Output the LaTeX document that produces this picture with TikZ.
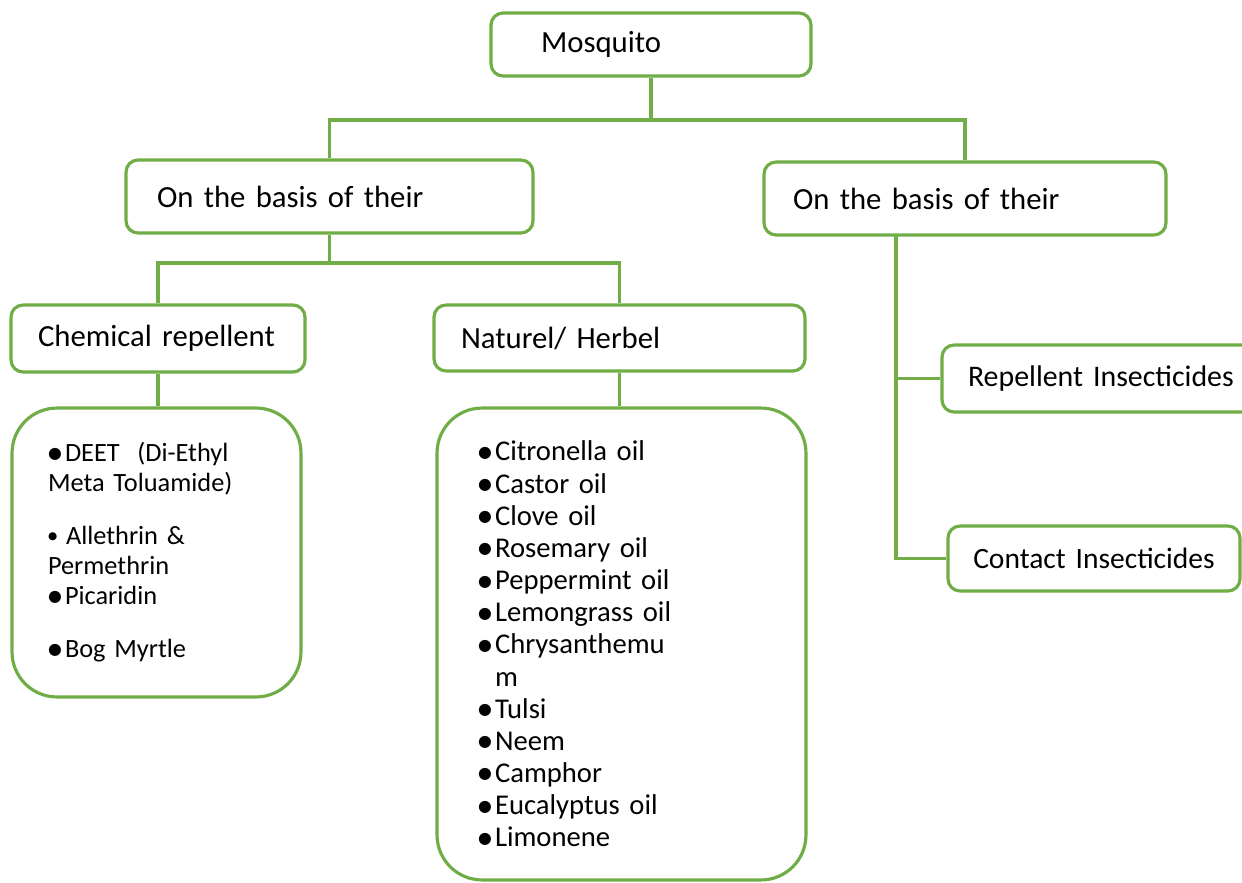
\documentclass[tikz,border=0pt]{standalone}
\usepackage{fontspec}
\setmainfont{Carlito}
\newfontfamily\dotfont{DejaVu Sans}
\usetikzlibrary{positioning}
\definecolor{leafgreen}{RGB}{112,173,71}
\newcommand{\bdot}{\makebox[0.34cm][l]{\raisebox{0.07cm}{\dotfont\fontsize{9}{9}\selectfont ●}}}
\newcommand{\sdot}{\makebox[0.36cm][l]{\raisebox{0.1cm}{\dotfont\fontsize{6}{6}\selectfont ●}}}

\tikzset{
  hbox/.style={draw=leafgreen, line width=1.8pt, rounded corners=0.24cm, align=left,
    inner ysep=0pt, font=\fontsize{17.5}{20}\selectfont},
  lbox/.style={hbox, rounded corners=0.9cm},
  link/.style={leafgreen, line width=1.8pt}
}

\begin{document}
\begin{tikzpicture}[x=0.02cm, y=-0.02cm]
  \clip (0,0) rectangle (1242,883);
  \node[hbox, text width=4.4cm, inner xsep=1cm, minimum height=1.26cm] (mosq) at (651,44.5) {Mosquito};
  \node[hbox, text width=6.9cm, inner xsep=0.62cm, minimum height=1.46cm] (basisL) at (329.5,196.5) {On the basis of their};
  \node[hbox, text width=6.88cm, inner xsep=0.58cm, minimum height=1.46cm] (basisR) at (965,198.5) {On the basis of their};
  \node[hbox, text width=4.8cm, inner xsep=0.54cm, minimum height=1.34cm] (chem) at (158,338.5) {Chemical repellent};
  \node[hbox, text width=6.34cm, inner xsep=0.54cm, minimum height=1.32cm] (herb) at (619.5,338) {Naturel/ Herbel};
  \node[hbox, text width=5.36cm, inner xsep=0.52cm, minimum height=1.34cm, font=\fontsize{17}{19}\selectfont] (repel) at (1102,378.5) {Repellent Insecticides};
  \node[hbox, text width=5cm, inner xsep=0.42cm, minimum height=1.3cm, align=center, font=\fontsize{16.8}{19}\selectfont] (contact) at (1094,558.5) {Contact Insecticides};
  \node[lbox, text width=4.34cm, inner xsep=0.72cm, minimum width=5.78cm, minimum height=5.78cm,
    font=\fontsize{15}{17.1}\selectfont] (chemlist) at (156.5,552.5)
    {\bdot DEET\ \ (Di-Ethyl\\Meta Toluamide)\\[0.46cm]\sdot Allethrin \&\\Permethrin\\\bdot Picaridin\\[0.46cm]\bdot Bog Myrtle};
  \node[lbox, text width=5.74cm, inner xsep=0.82cm, minimum height=9.44cm,
    font=\fontsize{16.3}{18.3}\selectfont] (herblist) at (621.5,644)
    {\bdot Citronella oil\\\bdot Castor oil\\\bdot Clove oil\\\bdot Rosemary oil\\\bdot Peppermint oil\\
     \bdot Lemongrass oil\\\bdot Chrysanthemu\\\hspace*{0.34cm}m\\\bdot Tulsi\\\bdot Neem\\\bdot Camphor\\
     \bdot Eucalyptus oil\\\bdot Limonene};
  \coordinate (topbar) at (651,120);
  \coordinate (midbar) at (329.5,263);
  \coordinate (trunk) at (896,235);
  \draw[link] (mosq.south) -- (topbar) -| (basisL.north);
  \draw[link] (topbar) -| (basisR.north);
  \draw[link] (basisL.south) -- (midbar) -| (chem.north);
  \draw[link] (midbar) -| (herb.north);
  \draw[link] (chem.south) -- (chem.south |- chemlist.north);
  \draw[link] (herb.south) -- (herb.south |- herblist.north);
  \draw[link] (trunk) |- (contact.west);
  \draw[link] (trunk |- repel.west) -- (repel.west);
\end{tikzpicture}
\end{document}
